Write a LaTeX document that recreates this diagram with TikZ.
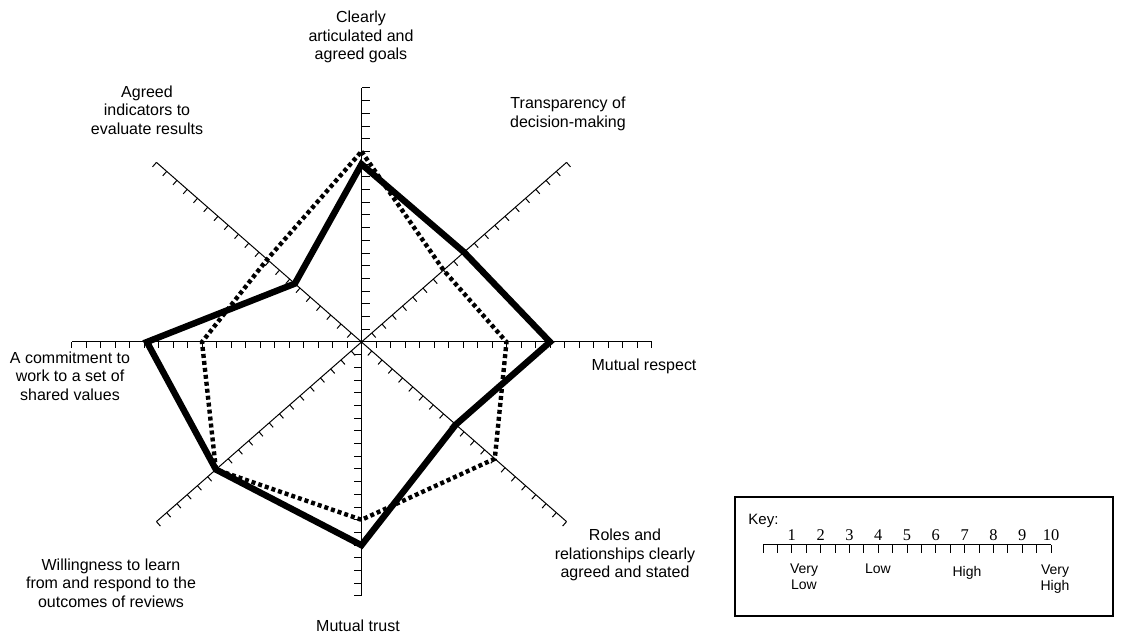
\documentclass[tikz,border=0pt]{standalone}
\usepackage{fontspec}
\setmainfont{Liberation Sans}
\newfontfamily\keydigits{Liberation Serif}
\usetikzlibrary{calc}

\begin{document}
\begin{tikzpicture}[
  x=0.5pt, y=-0.5pt,
  font=\fontsize{8}{9.25}\selectfont,
  axis/.style={line width=0.5pt},
  tk/.style={line width=0.5pt},
  rateA/.style={line width=3.2pt, line join=miter},
  rateB/.style={line width=2.2pt, dash pattern=on 2pt off 1.5pt},
  lbl/.style={align=center, inner sep=0pt},
  keylbl/.style={align=center, inner sep=0pt, font=\fontsize{7}{8}\selectfont},
]
\useasboundingbox (0,0) rectangle (1125,635);
\coordinate (O) at (361.5,342);
% spokes with ticks
\foreach \a/\tx/\ty in {90/8/0, 45/3.95/4.5, 0/0/6, -45/-3.95/4.5,
    -90/-8/0, -135/3.95/4.5, 180/0/6, 135/-3.95/4.5} {
  \draw[axis] (O) -- ++({290*cos(\a)},{-254*sin(\a)});
  \foreach \k in {1,...,20}
    \draw[tk] ($(O)+({14.5*\k*cos(\a)},{-12.7*\k*sin(\a)})$) -- ++(\tx,\ty);
}
% ratings
\foreach \n/\a/\v in {s1/90/7, s2/45/5, s3/0/6.5, s4/-45/4.6, s5/-90/8,
    s6/-135/7.1, s7/180/7.4, s8/135/3.25,
    d1/90/7.5, d2/45/4, d3/0/5, d4/-45/6.5, d5/-90/7,
    d6/-135/7.1, d7/180/5.5, d8/135/4.6}
  \coordinate (\n) at ($(O)+({29*\v*cos(\a)},{-25.4*\v*sin(\a)})$);
\draw[rateB] (d1) -- (d2) -- (d3) -- (d4) -- (d5) -- (d6) -- (d7) -- (d8) -- cycle;
\draw[rateA] (s1) -- (s2) -- (s3) -- (s4) -- (s5) -- (s6) -- (s7) -- (s8) -- cycle;
% spoke labels
\node[lbl] (goals) at (361,37) {Clearly\\articulated and\\agreed goals};
\node[lbl] (transp) at (568,114) {Transparency of\\decision-making};
\node[lbl] (respect) at (644,366) {Mutual respect};
\node[lbl] (roles) at (625,555) {Roles and\\relationships clearly\\agreed and stated};
\node[lbl] (trust) at (358,626) {Mutual trust};
\node[lbl] (learn) at (111,583) {Willingness to learn\\from and respond to the\\outcomes of reviews};
\node[lbl] (values) at (70,376) {A commitment to\\work to a set of\\shared values};
\node[lbl] (indic) at (147,110) {Agreed\\indicators to\\evaluate results};
% key
\draw[line width=0.7pt] (735,497) rectangle (1113,616);
\node[anchor=west, inner sep=0pt, font=\fontsize{7.5}{9}\selectfont] (key) at (748,521) {Key:};
\draw[axis] (763,545) -- (1051,545);
\foreach \k in {0,...,20}
  \draw[tk] (763+14.4*\k,545) -- ++(0,8);
\foreach \k in {1,...,10}
  \node[inner sep=0pt, font=\keydigits\fontsize{8.2}{9}\selectfont] (num\k) at (763+28.8*\k,535) {\k};
\node[keylbl] (vlow) at (804,577) {Very\\Low};
\node[keylbl] (low) at (878,569) {Low};
\node[keylbl] (high) at (967,573) {High};
\node[keylbl] (vhigh) at (1055,579) {Very\\High};
\end{tikzpicture}
\end{document}
